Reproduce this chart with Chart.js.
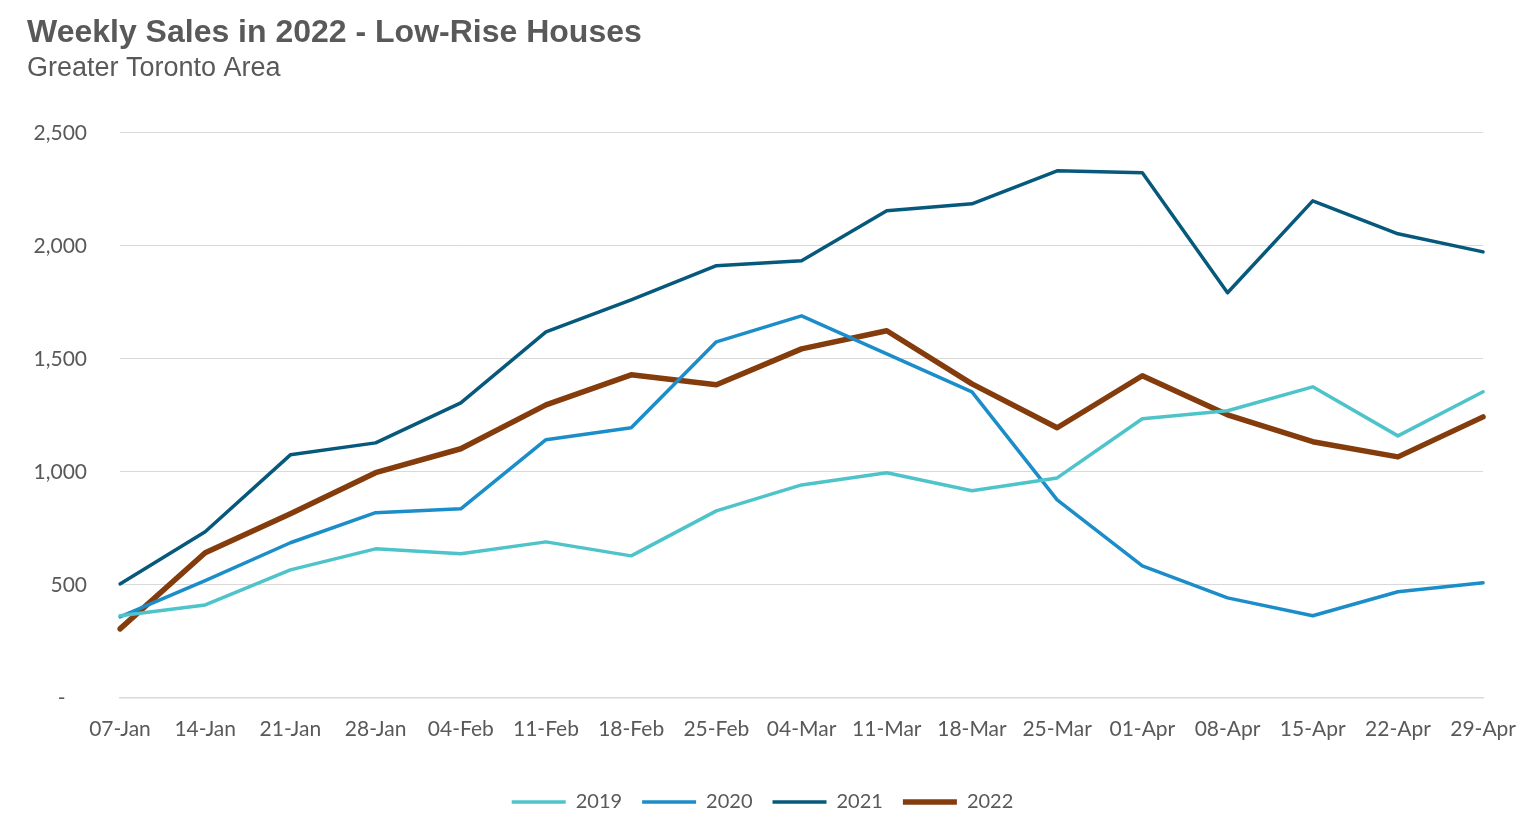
<!DOCTYPE html>
<html>
<head>
<meta charset="utf-8">
<title>Weekly Sales in 2022 - Low-Rise Houses</title>
<script src="https://cdn.jsdelivr.net/npm/chart.js@4/dist/chart.umd.min.js"></script>
<style>
  html, body { margin: 0; padding: 0; background: #fff; }
  #wrap { position: relative; width: 1527px; height: 823px; }
</style>
</head>
<body>
<div id="wrap"><canvas id="salesChart"></canvas></div>
<script>
// weeks (week ending)
const weeks = ['07-Jan', '14-Jan', '21-Jan', '28-Jan', '04-Feb', '11-Feb', '18-Feb', '25-Feb',
  '04-Mar', '11-Mar', '18-Mar', '25-Mar', '01-Apr', '08-Apr', '15-Apr', '22-Apr', '29-Apr'];

// weekly low-rise sales
const sales2019 = [363, 411, 566, 659, 637, 690, 628, 827, 942, 996, 916, 973, 1235, 1270, 1376, 1159, 1354];
const sales2020 = [358, 518, 686, 819, 836, 1142, 1195, 1575, 1690, 1522, 1354, 876, 584, 442, 363, 469, 509];
const sales2021 = [504, 735, 1075, 1128, 1305, 1619, 1761, 1912, 1934, 2155, 2186, 2332, 2323, 1792, 2199, 2053, 1973];
const sales2022 = [305, 642, 814, 996, 1102, 1296, 1429, 1385, 1544, 1624, 1389, 1195, 1425, 1252, 1133, 1066, 1243];

const yTicks = [0, 500, 1000, 1500, 2000, 2500];

const textGrey = '#595959';
const tickFont = { family: 'Lato, "Open Sans", sans-serif', size: 21 };
const legendFont = { family: 'Lato, "Open Sans", sans-serif', size: 20 };

function series(label, data, color, width) {
  return {
    label: label,
    data: data,
    borderColor: color,
    backgroundColor: color,
    borderWidth: width,
    borderCapStyle: 'round',
    borderJoinStyle: 'round',
    pointRadius: 0,
    pointHoverRadius: 0,
    tension: 0,
    fill: false
  };
}

const ctx = document.getElementById('salesChart').getContext('2d');
const salesChart = new Chart(ctx, {
  type: 'line',
  data: {
    labels: weeks,
    datasets: [
      series('2019', sales2019, '#4EC4CA', 3.5),
      series('2020', sales2020, '#1B8DC9', 3.5),
      series('2021', sales2021, '#07597C', 3.5),
      series('2022', sales2022, '#843C0C', 5.5)
    ]
  },
  options: {
    responsive: true,
    maintainAspectRatio: false,
    animation: false,
    layout: { padding: { left: 27, right: 29, top: 0, bottom: 1 } },
    plugins: {
      title: {
        display: true,
        text: 'Weekly Sales in 2022 - Low-Rise Houses',
        align: 'start',
        color: textGrey,
        font: { family: '"Liberation Sans", Arial, sans-serif', size: 32, weight: 'bold' },
        padding: { top: 14, bottom: 0 }
      },
      subtitle: {
        display: true,
        text: 'Greater Toronto Area',
        align: 'start',
        color: textGrey,
        font: { family: '"Liberation Sans", Arial, sans-serif', size: 27 },
        padding: { top: 0, bottom: 48 }
      },
      legend: {
        position: 'bottom',
        labels: {
          usePointStyle: true,
          pointStyle: 'line',
          pointStyleWidth: 54,
          color: textGrey,
          font: legendFont,
          padding: 20
        }
      },
      tooltip: { enabled: false }
    },
    scales: {
      x: {
        offset: false,
        grid: { display: false },
        border: { display: true, color: '#D9D9D9', width: 1.5 },
        ticks: { color: textGrey, font: tickFont, padding: 11, maxRotation: 0, autoSkip: false },
        afterFit: function(scale) { scale.height += 19; }
      },
      y: {
        min: 0,
        max: 2500,
        afterBuildTicks: function(scale) {
          scale.ticks = yTicks.map(v => ({ value: v }));
        },
        afterFit: function(scale) { scale.width = 93; },
        grid: { color: '#D9D9D9', lineWidth: 1, drawTicks: false },
        border: { display: false },
        ticks: {
          color: textGrey,
          font: tickFont,
          padding: 33,
          callback: function(value) {
            return value === 0 ? '-    ' : value.toLocaleString('en-US');
          }
        }
      }
    }
  }
});
</script>
</body>
</html>
